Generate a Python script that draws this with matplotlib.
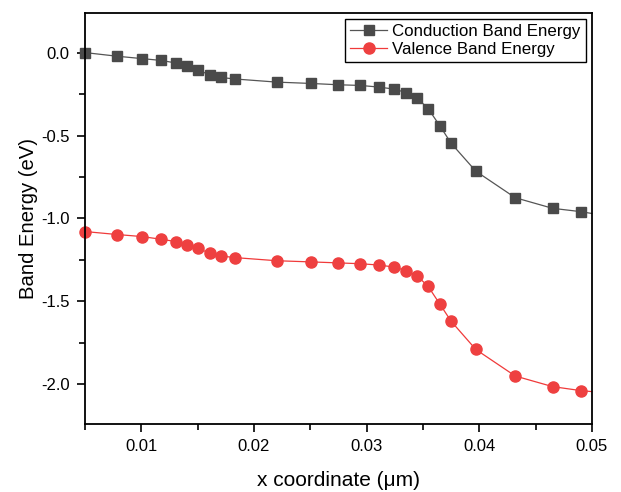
import numpy as np
import matplotlib
matplotlib.use('Agg')
from matplotlib import pyplot as plt
from matplotlib.ticker import MultipleLocator, FormatStrFormatter

plt.rcParams['font.family'] = ['Liberation Sans', 'DejaVu Sans']
plt.rcParams['axes.unicode_minus'] = False

# mesh positions (um); last point is the domain edge, no symbol drawn there
x = [0.005, 0.00786, 0.01002, 0.01171, 0.01303, 0.01401, 0.01504, 0.01607,
     0.01705, 0.01829, 0.02203, 0.02505, 0.0275, 0.02945, 0.0311, 0.03243,
     0.03352, 0.0345, 0.03547, 0.03651, 0.03751, 0.0397, 0.0432, 0.04652,
     0.04902, 0.05]

conduction = [0.0, -0.022, -0.036, -0.047, -0.062, -0.079, -0.107, -0.133,
              -0.150, -0.159, -0.178, -0.186, -0.194, -0.198, -0.208, -0.220,
              -0.241, -0.275, -0.338, -0.442, -0.547, -0.715, -0.875, -0.939,
              -0.959, -0.970]

valence = [-1.079, -1.097, -1.109, -1.125, -1.139, -1.158, -1.180, -1.210,
           -1.226, -1.236, -1.255, -1.262, -1.268, -1.273, -1.281, -1.293,
           -1.315, -1.347, -1.410, -1.517, -1.620, -1.790, -1.950, -2.014,
           -2.038, -2.044]

marked = list(range(len(x) - 1))

fig = plt.figure(figsize=(6.21, 4.92), dpi=100)
ax = fig.add_axes([0.137, 0.138, 0.816, 0.836])

ax.plot(x, conduction, color='#555555', lw=0.9, marker='s', ms=7,
        mfc='#4a4a4a', mec='#4a4a4a', markevery=marked,
        label='Conduction Band Energy', clip_on=False)
ax.plot(x, valence, color='#f03a3a', lw=0.9, marker='o', ms=8,
        mfc='#ee4040', mec='#ee4040', markevery=marked,
        label='Valence Band Energy', clip_on=False)

ax.set_xlim(0.005, 0.05)
ax.set_ylim(-2.24, 0.24)
ax.xaxis.set_major_locator(MultipleLocator(0.01))
ax.xaxis.set_minor_locator(MultipleLocator(0.005))
ax.yaxis.set_major_locator(MultipleLocator(0.5))
ax.yaxis.set_minor_locator(MultipleLocator(0.25))
ax.xaxis.set_major_formatter(FormatStrFormatter('%.2f'))
ax.yaxis.set_major_formatter(FormatStrFormatter('%.1f'))

ax.tick_params(which='major', direction='out', length=6, width=1.2,
               labelsize=12, pad=5, top=False, right=False)
ax.tick_params(which='minor', direction='out', length=4, width=1.2,
               top=False, right=False)
for s in ax.spines.values():
    s.set_linewidth(1.3)

ax.set_xlabel('x coordinate (\u03bcm)', fontsize=15, labelpad=12)
ax.set_ylabel('Band Energy (eV)', fontsize=14.6, labelpad=2)

leg = ax.legend(loc='upper right', fontsize=12.2, fancybox=False,
                edgecolor='black', framealpha=1, borderpad=0.3,
                handlelength=2.2, handletextpad=0.3, labelspacing=0.2,
                borderaxespad=0.35)
leg.get_frame().set_linewidth(1.0)

fig.savefig('out.png', dpi=100)
plt.close(fig)
